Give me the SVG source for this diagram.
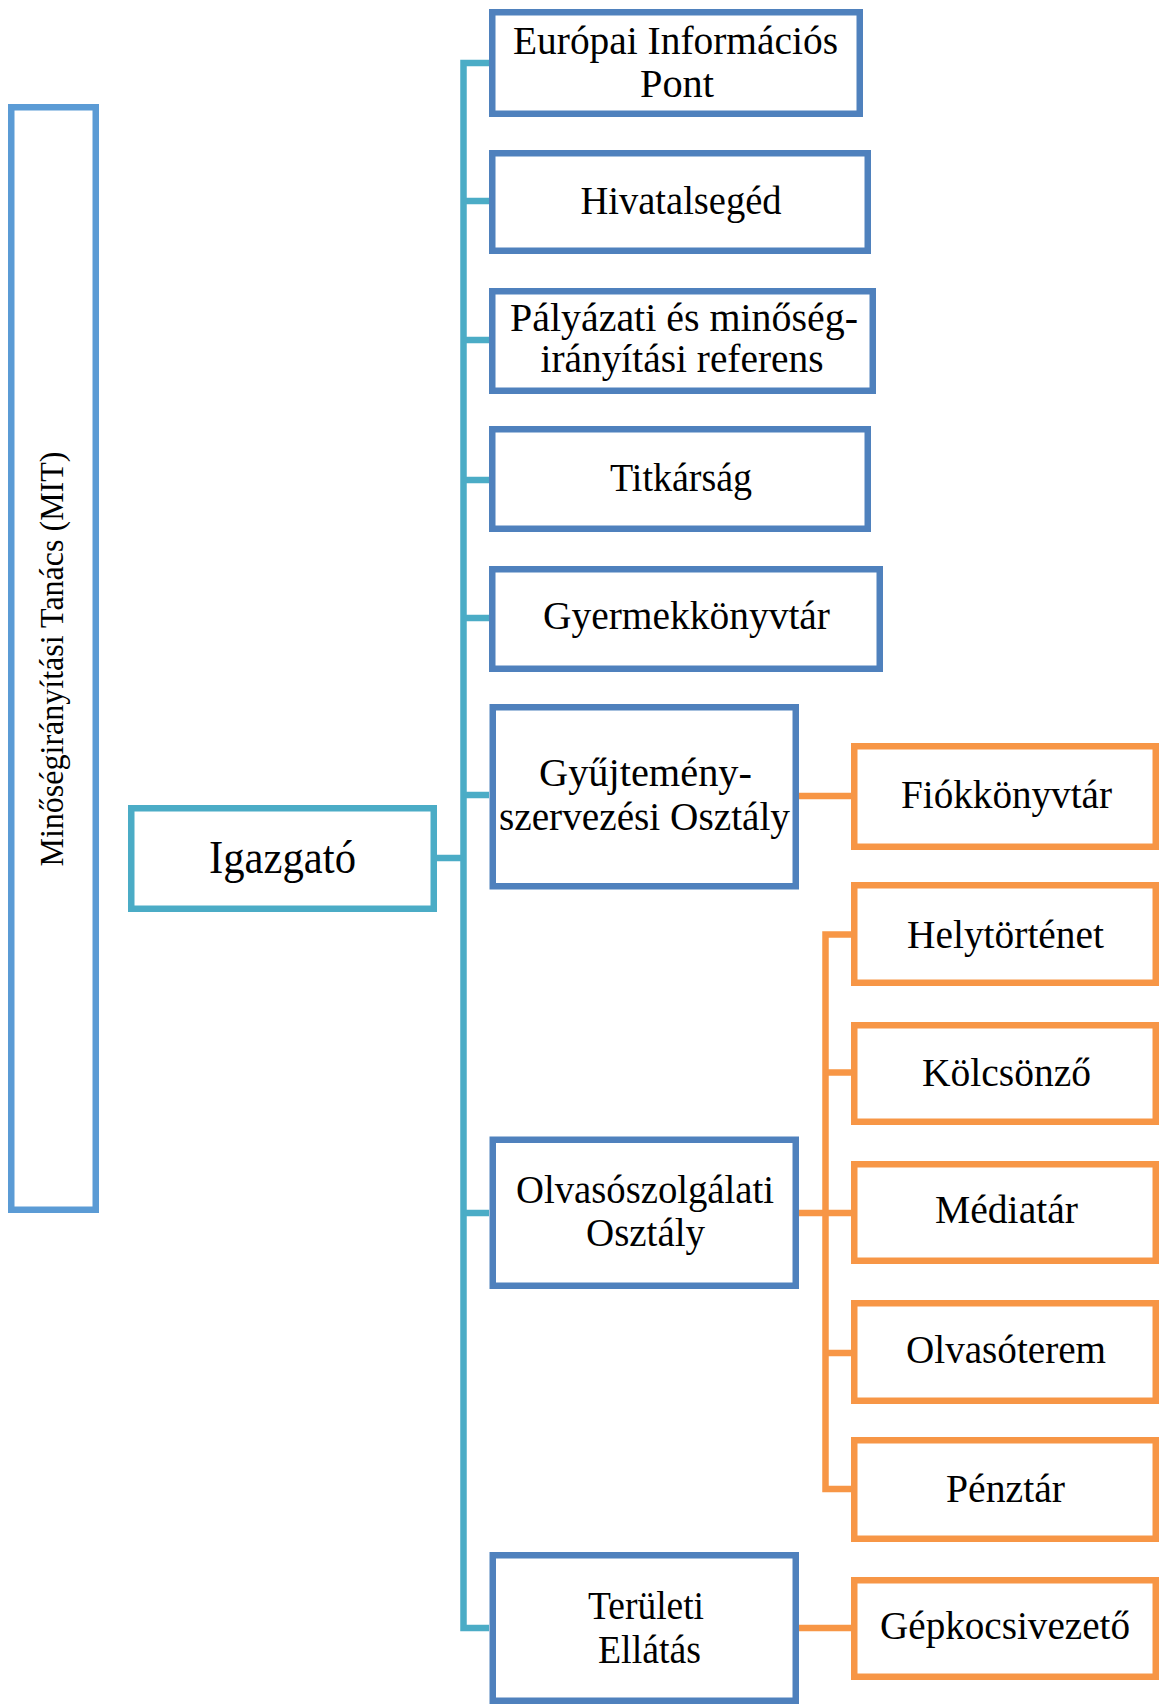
<svg xmlns="http://www.w3.org/2000/svg" width="1159" height="1704" viewBox="0 0 1159 1704">
<style>
.bg{fill:#ffffff}
.blue{fill:#ffffff;stroke:#4f81bd;stroke-width:6.5}
.orange{fill:#ffffff;stroke:#f79646;stroke-width:6.5}
.teal{fill:#ffffff;stroke:#4bacc6;stroke-width:6.5}
.mit{fill:#ffffff;stroke:#5b9bd5;stroke-width:6.5}
.ct{fill:none;stroke:#4bacc6;stroke-width:6.5;stroke-linejoin:miter}
.co{fill:none;stroke:#f79646;stroke-width:6.5;stroke-linejoin:miter}
text{font-family:"Liberation Serif","Times New Roman",serif;font-size:41px;fill:#000000;text-anchor:middle}
.small{font-size:33px}
.big{font-size:47px}
</style>
<rect class="bg" x="0" y="0" width="1159" height="1704"/>
<g id="connectors">
<path class="ct" d="M489 63 H463.5 V1628 H489"/>
<path class="ct" d="M463.5 201 H489 M463.5 340 H489 M463.5 480 H489 M463.5 618 H489 M463.5 795 H489 M463.5 1213 H489 M437 858 H463.5"/>
<path class="co" d="M799 796 H851"/>
<path class="co" d="M799 1213 H851"/>
<path class="co" d="M851 934.5 H825.5 V1489 H851"/>
<path class="co" d="M825.5 1072.5 H851 M825.5 1353 H851"/>
<path class="co" d="M799 1628 H851"/>
</g>
<g id="mit">
<rect class="mit" x="11.25" y="107.25" width="84.5" height="1102.5"/>
<text class="small" transform="translate(63 659) rotate(-90)" textLength="415" lengthAdjust="spacingAndGlyphs">Minőségirányítási Tanács (MIT)</text>
</g>
<g id="igazgato">
<rect class="teal" x="131.25" y="808.25" width="302.5" height="100.5"/>
<text class="big" x="282.5" y="872.5" textLength="147" lengthAdjust="spacingAndGlyphs">Igazgató</text>
</g>
<g id="europai">
<rect class="blue" x="492.25" y="12.25" width="367.5" height="101.5"/>
<text x="675.5" y="54" textLength="325" lengthAdjust="spacingAndGlyphs">Európai Információs</text>
<text x="677" y="97" textLength="74" lengthAdjust="spacingAndGlyphs">Pont</text>
</g>
<g id="hivatalseged">
<rect class="blue" x="492.25" y="153.25" width="375.5" height="97.5"/>
<text x="681" y="213.5" textLength="201" lengthAdjust="spacingAndGlyphs">Hivatalsegéd</text>
</g>
<g id="palyazati">
<rect class="blue" x="492.25" y="291.25" width="380.5" height="99.5"/>
<text x="684" y="330.5" textLength="348" lengthAdjust="spacingAndGlyphs">Pályázati és minőség-</text>
<text x="682" y="372" textLength="283" lengthAdjust="spacingAndGlyphs">irányítási referens</text>
</g>
<g id="titkarsag">
<rect class="blue" x="492.25" y="429.25" width="375.5" height="99.5"/>
<text x="681" y="491" textLength="142" lengthAdjust="spacingAndGlyphs">Titkárság</text>
</g>
<g id="gyermekkonyvtar">
<rect class="blue" x="492.25" y="569.25" width="387.5" height="99.5"/>
<text x="686.5" y="629" textLength="287" lengthAdjust="spacingAndGlyphs">Gyermekkönyvtár</text>
</g>
<g id="gyujtemeny">
<rect class="blue" x="492.75" y="707.25" width="303" height="179"/>
<text x="645.5" y="785.5" textLength="213" lengthAdjust="spacingAndGlyphs">Gyűjtemény-</text>
<text x="644.5" y="829.5" textLength="291" lengthAdjust="spacingAndGlyphs">szervezési Osztály</text>
</g>
<g id="olvasoszolgalati">
<rect class="blue" x="492.75" y="1139.75" width="303" height="146"/>
<text x="645" y="1202.5" textLength="258" lengthAdjust="spacingAndGlyphs">Olvasószolgálati</text>
<text x="645.5" y="1245.5" textLength="119" lengthAdjust="spacingAndGlyphs">Osztály</text>
</g>
<g id="teruleti">
<rect class="blue" x="492.75" y="1555.25" width="303" height="145.5"/>
<text x="646" y="1618.5" textLength="116" lengthAdjust="spacingAndGlyphs">Területi</text>
<text x="649.5" y="1662.5" textLength="103" lengthAdjust="spacingAndGlyphs">Ellátás</text>
</g>
<g id="fiokkonyvtar">
<rect class="orange" x="854.25" y="746.25" width="301.5" height="100.5"/>
<text x="1006.5" y="807.5" textLength="211" lengthAdjust="spacingAndGlyphs">Fiókkönyvtár</text>
</g>
<g id="helytortenet">
<rect class="orange" x="854.25" y="885.25" width="301.5" height="97.5"/>
<text x="1005.5" y="947.5" textLength="197" lengthAdjust="spacingAndGlyphs">Helytörténet</text>
</g>
<g id="kolcsonzo">
<rect class="orange" x="854.25" y="1025.25" width="301.5" height="96.5"/>
<text x="1006.5" y="1085.5" textLength="169" lengthAdjust="spacingAndGlyphs">Kölcsönző</text>
</g>
<g id="mediatar">
<rect class="orange" x="854.25" y="1164.25" width="301.5" height="96.5"/>
<text x="1006.5" y="1222.5" textLength="143" lengthAdjust="spacingAndGlyphs">Médiatár</text>
</g>
<g id="olvasoterem">
<rect class="orange" x="854.25" y="1303.25" width="301.5" height="97.5"/>
<text x="1006" y="1362.5" textLength="200" lengthAdjust="spacingAndGlyphs">Olvasóterem</text>
</g>
<g id="penztar">
<rect class="orange" x="854.25" y="1440.25" width="301.5" height="98.5"/>
<text x="1005.5" y="1501.5" textLength="119" lengthAdjust="spacingAndGlyphs">Pénztár</text>
</g>
<g id="gepkocsivezeto">
<rect class="orange" x="854.25" y="1580.25" width="301.5" height="96.5"/>
<text x="1005" y="1638.5" textLength="250" lengthAdjust="spacingAndGlyphs">Gépkocsivezető</text>
</g>
</svg>
